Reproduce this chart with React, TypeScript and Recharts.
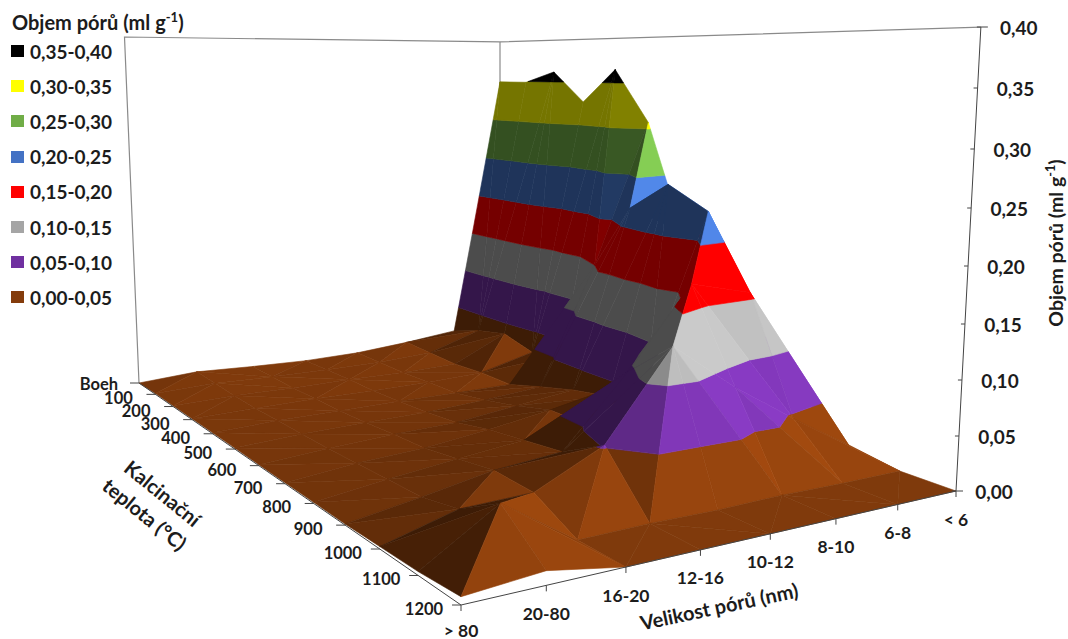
import { ScatterChart, Scatter, XAxis, YAxis } from "recharts";

const W = 1068;
const H = 639;

const temperatures = ["Boeh", "100", "200", "300", "400", "500", "600", "700", "800", "900", "1000", "1100", "1200"];
const poreSizes = ["> 80", "20-80", "16-20", "12-16", "10-12", "8-10", "6-8", "< 6"];
const volumeTicks = [0, 0.05, 0.1, 0.15, 0.2, 0.25, 0.3, 0.35, 0.4];

// pore volume per calcination temperature, ordered like poreSizes
const volBoeh = [0, 0.005, 0.003, 0.002, 0.004, 0.01, 0.018, 0.349];
const vol100 = [0.001, 0.004, 0.003, 0.003, 0.004, 0.008, 0.03, 0.349];
const vol200 = [0.001, 0.003, 0.003, 0.004, 0.004, 0.006, 0.037, 0.362];
const vol300 = [0.001, 0.003, 0.004, 0.004, 0.005, 0.008, 0.025, 0.327];
const vol400 = [0.001, 0.004, 0.005, 0.006, 0.006, 0.007, 0.034, 0.365];
const vol500 = [0.001, 0.005, 0.007, 0.008, 0.012, 0.018, 0.15, 0.307];
const vol600 = [0.001, 0.006, 0.01, 0.012, 0.02, 0.028, 0.22, 0.19];
const vol700 = [0.001, 0.008, 0.012, 0.02, 0.03, 0.035, 0.25, 0.19];
const vol800 = [0.001, 0.01, 0.018, 0.025, 0.03, 0.07, 0.228, 0.09];
const vol900 = [0.001, 0.012, 0.024, 0.03, 0.095, 0.17, 0.156, 0.045];
const vol1000 = [0.002, 0.02, 0.022, 0.052, 0.13, 0.085, 0.046, 0.01];
const vol1100 = [0.003, 0.043, 0.001, 0.002, 0.001, 0.002, 0.001, 0.001];
const vol1200 = [0.006, 0.011, 0, 0, 0, 0, 0, 0];
const volumes = [volBoeh, vol100, vol200, vol300, vol400, vol500, vol600, vol700, vol800, vol900, vol1000, vol1100, vol1200];

const bandLabels = ["0,35-0,40", "0,30-0,35", "0,25-0,30", "0,20-0,25", "0,15-0,20", "0,10-0,15", "0,05-0,10", "0,00-0,05"];
const bandColors = ["#000000", "#ffff00", "#70ad47", "#4472c4", "#ff0000", "#a5a5a5", "#7030a0", "#843c0c"];
const bandFloors = [0.35, 0.3, 0.25, 0.2, 0.15, 0.1, 0.05, 0];

const FONT = "Lato, Roboto, sans-serif";
const INK = "#1c1c1c";

// camera: the floor of the 3D box seen in perspective
const FLOOR = { back: [139, 383], right: [500, 338], near: [956, 491], left: [461, 605] };
const VANISH = [500, 9000];

function makeFloor() {
  const [x0, y0] = FLOOR.back;
  const [x1, y1] = FLOOR.right;
  const [x2, y2] = FLOOR.near;
  const [x3, y3] = FLOOR.left;
  const dx1 = x1 - x2;
  const dx2 = x3 - x2;
  const sx = x0 - x1 + x2 - x3;
  const dy1 = y1 - y2;
  const dy2 = y3 - y2;
  const sy = y0 - y1 + y2 - y3;
  const det = dx1 * dy2 - dx2 * dy1;
  const g = (sx * dy2 - dx2 * sy) / det;
  const h = (dx1 * sy - sx * dy1) / det;
  const a = x1 - x0 + g * x1;
  const b = x3 - x0 + h * x3;
  const d = y1 - y0 + g * y1;
  const e = y3 - y0 + h * y3;
  return (u: number, v: number) => {
    const w = g * u + h * v + 1;
    return [(a * u + b * v + x0) / w, (d * u + e * v + y0) / w];
  };
}
const floorAt = makeFloor();

function project(i: number, j: number, value: number) {
  const [fx, fy] = floorAt(j / 7, i / 12);
  const full = 1.101 * fy - 0.0012 * fx - 75.5;
  const t = value / 0.4;
  const rise = full * (t / (t + 1.066 * (1 - t) || 1));
  return { x: fx + ((fx - VANISH[0]) / (VANISH[1] - fy)) * rise, y: fy - rise };
}

type Vertex = { i: number; j: number; v: number };

function clipBelow(poly: Vertex[], level: number, keepAbove: boolean) {
  const out: Vertex[] = [];
  const inside = (p: Vertex) => (keepAbove ? p.v >= level : p.v <= level);
  poly.forEach((p, k) => {
    const q = poly[(k + 1) % poly.length];
    if (inside(p)) out.push(p);
    if (inside(p) !== inside(q)) {
      const t = (level - p.v) / (q.v - p.v);
      out.push({ i: p.i + (q.i - p.i) * t, j: p.j + (q.j - p.j) * t, v: level });
    }
  });
  return out;
}

function shadeOf(tri: Vertex[]) {
  const [p, q, r] = tri;
  const ux = (q.j - p.j) / 7, uz = (q.i - p.i) / 12, uy = (q.v - p.v) * 2;
  const vx = (r.j - p.j) / 7, vz = (r.i - p.i) / 12, vy = (r.v - p.v) * 2;
  let nx = uy * vz - uz * vy;
  let ny = uz * vx - ux * vz;
  let nz = ux * vy - uy * vx;
  if (ny < 0) {
    nx = -nx;
    ny = -ny;
    nz = -nz;
  }
  const len = Math.hypot(nx, ny, nz) || 1;
  const dot = Math.max(0, (nx * 0.6 + nz * 0.72 + ny * 0.43) / len);
  // bright faces are held back so grey does not burn out to white
  return dot < 0.43 ? 0.46 + 1.15 * dot : 0.955 + 0.5 * (dot - 0.43);
}

function tint(hex: string, s: number) {
  const n = parseInt(hex.slice(1), 16);
  const c = [n >> 16, (n >> 8) & 255, n & 255].map((x) => Math.min(255, Math.round(x * s)));
  return `rgb(${c[0]},${c[1]},${c[2]})`;
}

function cellTriangles(i: number, j: number) {
  const at = (a: number, b: number): Vertex => ({ i: a, j: b, v: volumes[a][b] });
  const far = at(i, j + 1), near = at(i + 1, j), l = at(i, j), r = at(i + 1, j + 1);
  const top = Math.max(far.v, near.v, l.v, r.v);
  // the quad is folded along the diagonal that holds its highest corner
  if (far.v === top || near.v === top) {
    return [[l, far, near], [far, r, near]];
  }
  return [[far, l, r], [l, near, r]];
}

// surface pieces, painted from the far corner to the near one
const facetColors: string[] = [];
const facetSizes: number[] = [];
const surfacePoints: { x: number; y: number }[] = [];
for (let i = 0; i < 12; i++) {
  for (let j = 6; j >= 0; j--) {
    cellTriangles(i, j).forEach((tri) => {
      const s = shadeOf(tri);
      bandFloors
        .slice()
        .reverse()
        .forEach((lo) => {
          const band = bandFloors.indexOf(lo);
          const poly = clipBelow(clipBelow(tri, lo, true), lo + 0.05, false);
          if (poly.length < 3) return;
          facetColors.push(tint(bandColors[band], s));
          facetSizes.push(poly.length);
          poly.forEach((p) => surfacePoints.push(project(p.i, p.j, p.v)));
        });
    });
  }
}

const A = project(0, 0, 0), A2 = project(0, 0, 0.4);
const D = project(0, 7, 0), D2 = project(0, 7, 0.4);
const B = project(12, 0, 0);
const C = project(12, 7, 0), C2 = project(12, 7, 0.4);

const wallPaths = [[A, A2, D2, C2], [D2, D]];
const frontPaths = [
  [A, B, C],
  [C2, C],
  ...temperatures.map((_, i) => {
    const p = project(i, 0, 0);
    return [p, { x: p.x - 9, y: p.y }];
  }),
  ...poreSizes.map((_, j) => {
    const p = project(12, j, 0);
    return [p, { x: p.x, y: p.y + 6 }];
  }),
];

function flat(paths: { x: number; y: number }[][]) {
  return paths.reduce((acc, p) => acc.concat(p), [] as { x: number; y: number }[]);
}

const tickPixels = volumeTicks.map((v) => Math.round(project(12, 7, v).y));

type Label = { x: number; y: number; text: string; size: number; rotate?: number; sup?: boolean };
const labels: Label[] = [
  ...temperatures.map((text, i) => {
    const p = project(i, 0, 0);
    return { x: p.x - 37 - (i === 0 ? 3 : 0), y: p.y + 4 - (i === 0 ? 3 : 0), text, size: 16.5 };
  }),
  ...poreSizes.map((text, j) => {
    const p = project(12, j, 0);
    return { x: p.x, y: p.y + (j === 0 ? 25 : 28), text, size: 17.5 };
  }),
  { x: 719, y: 606, text: "Velikost pórů (nm)", size: 20, rotate: -12 },
  { x: 163, y: 493, text: "Kalcinační", size: 20, rotate: 39 },
  { x: 145, y: 514, text: "teplota (°C)", size: 20, rotate: 39 },
  { x: 1055, y: 243, text: "Objem pórů (ml g", size: 19.5, rotate: -90, sup: true },
];

function strokes(paths: { x: number; y: number }[][], stroke: string, width: number) {
  return (props: any) => {
    let at = 0;
    return (
      <g>
        {paths.map((path, k) => {
          const pts = props.points.slice(at, at + path.length);
          at += path.length;
          const d = pts.map((p: any, n: number) => `${n ? "L" : "M"}${p.x} ${p.y}`).join("");
          return <path key={k} d={d} fill="none" stroke={stroke} strokeWidth={width} />;
        })}
      </g>
    );
  };
}

function surfaceFaces(props: any) {
  let at = 0;
  return (
    <g>
      {facetSizes.map((size, k) => {
        const pts = props.points.slice(at, at + size);
        at += size;
        const d = pts.map((p: any, n: number) => `${n ? "L" : "M"}${p.x} ${p.y}`).join("") + "Z";
        return <path key={k} d={d} fill={facetColors[k]} stroke={facetColors[k]} strokeWidth={0.6} />;
      })}
    </g>
  );
}

function LabelMark(props: any) {
  const { cx, cy, payload } = props;
  const l: Label = payload;
  return (
    <text
      x={cx}
      y={cy}
      textAnchor="middle"
      dominantBaseline="central"
      fontFamily={FONT}
      fontWeight={700}
      fontSize={l.size}
      fill={INK}
      transform={l.rotate ? `rotate(${l.rotate} ${cx} ${cy})` : undefined}
    >
      {l.text}
      {l.sup && (
        <>
          <tspan dy={-5} fontSize={l.size * 0.65}>-1</tspan>
          <tspan dy={5}>)</tspan>
        </>
      )}
    </text>
  );
}

function VolumeTick(props: any) {
  const { y, payload } = props;
  const k = tickPixels.indexOf(payload.value);
  const v = volumeTicks[k];
  const ax = project(12, 7, v).x;
  return (
    <g>
      <line x1={ax - 4} y1={y} x2={v === 0.4 || v === 0 ? ax + 7 : ax} y2={y} stroke="#444" />
      <text
        x={ax + 38}
        y={y}
        textAnchor="middle"
        dominantBaseline="central"
        fontFamily={FONT}
        fontWeight={700}
        fontSize={19}
        fill={INK}
      >
        {v.toFixed(2).replace(".", ",")}
      </text>
    </g>
  );
}

const noDot = () => <g />;

export default function App() {
  return (
    <div style={{ position: "absolute", left: 0, top: 0, width: W, height: H, background: "#fff" }}>
      <ScatterChart width={W} height={H} margin={{ top: 0, right: 0, bottom: 0, left: 0 }}>
        <XAxis type="number" dataKey="x" domain={[0, W]} hide />
        <YAxis
          type="number"
          dataKey="y"
          domain={[0, H]}
          reversed
          orientation="right"
          mirror
          ticks={tickPixels}
          interval={0}
          axisLine={false}
          tickLine={false}
          tick={VolumeTick}
        />
        <Scatter data={flat(wallPaths)} line={strokes(wallPaths, "#8a8a8a", 1.2)} shape={noDot} isAnimationActive={false} />
        <Scatter data={surfacePoints} line={surfaceFaces} shape={noDot} isAnimationActive={false} />
        <Scatter data={flat(frontPaths)} line={strokes(frontPaths, "#444", 1)} shape={noDot} isAnimationActive={false} />
        <Scatter data={labels} shape={LabelMark} isAnimationActive={false} />
      </ScatterChart>
      <div style={{ position: "absolute", left: 12, top: 12, fontFamily: FONT, fontWeight: 700, color: INK }}>
        <div style={{ fontSize: 20, lineHeight: "20px", whiteSpace: "nowrap" }}>
          Objem pórů (ml g<sup style={{ fontSize: 13, lineHeight: 0 }}>-1</sup>)
        </div>
      </div>
      {bandLabels.map((label, k) => (
        <div
          key={label}
          style={{
            position: "absolute",
            left: 11,
            top: 41 + k * 35.2,
            height: 20,
            display: "flex",
            alignItems: "center",
            fontFamily: FONT,
            fontWeight: 700,
            fontSize: 19,
            color: INK,
          }}
        >
          <span style={{ width: 13, height: 12, background: bandColors[k], marginRight: 6, display: "inline-block" }} />
          {label}
        </div>
      ))}
    </div>
  );
}
